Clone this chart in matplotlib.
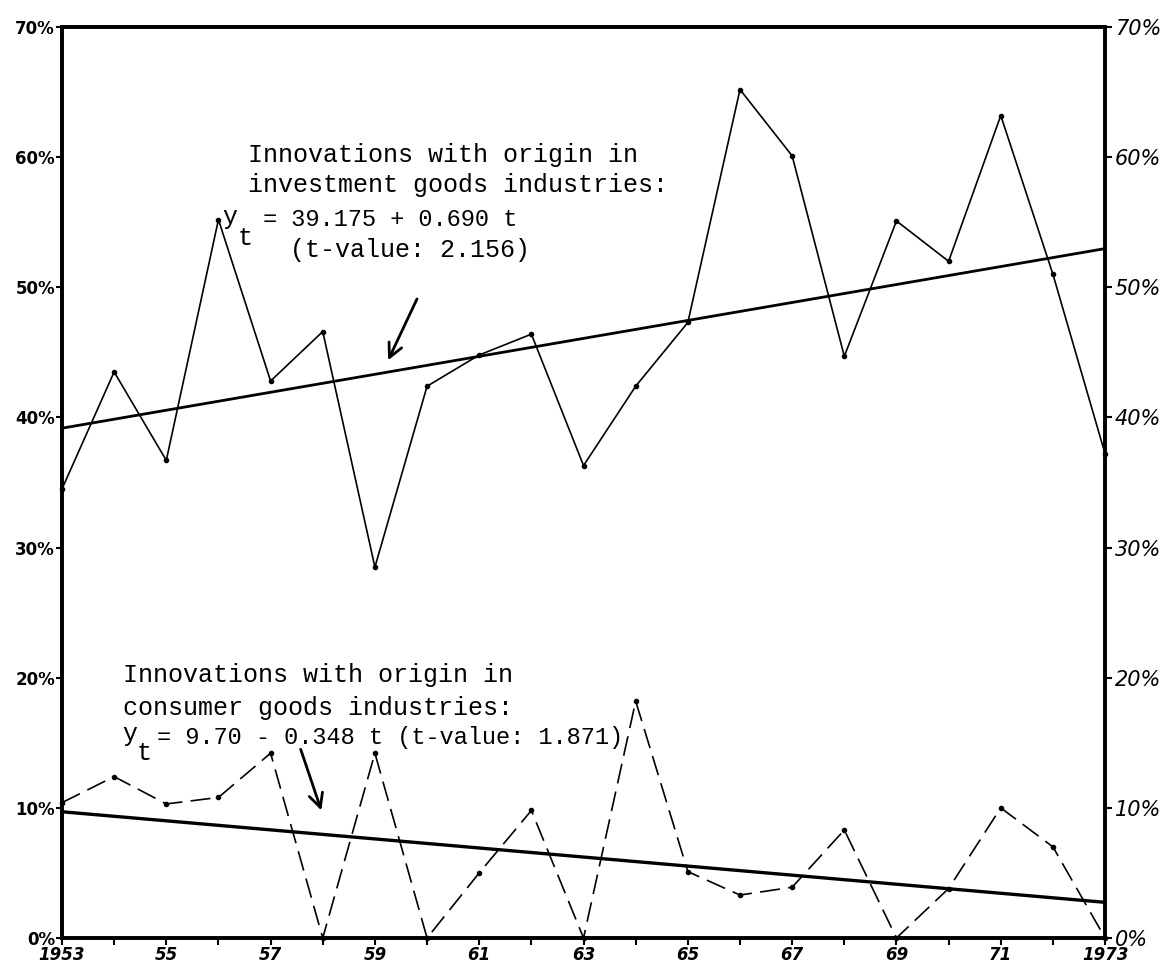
import numpy as np
import matplotlib
matplotlib.use("Agg")
import matplotlib.pyplot as plt

# yearly shares of innovations by origin (percent)
years = list(range(1953, 1974))
investment_share = [34.5, 43.5, 36.7, 55.2, 42.8, 46.6, 28.5, 42.4, 44.8, 46.4, 36.3,
                    42.4, 47.3, 65.2, 60.1, 44.7, 55.1, 52.0, 63.2, 51.0, 37.2]
consumer_share = [10.4, 12.4, 10.3, 10.8, 14.2, 0.0, 14.2, 0.0, 5.0, 9.8, 0.0,
                  18.2, 5.1, 3.3, 3.9, 8.3, 0.0, 3.8, 10.0, 7.0, 0.0]

# fitted trends, t = 0 in 1953
inv_const, inv_slope = 39.175, 0.690
con_const, con_slope = 9.70, -0.348

x_labels = ["1953", "55", "57", "59", "61", "63", "65", "67", "69", "71", "1973"]
y_ticks = [0, 10, 20, 30, 40, 50, 60, 70]

fig = plt.figure(figsize=(11.76, 9.66), dpi=100)
ax = fig.add_axes([0.0527, 0.029, 0.887, 0.943])

t = np.array(years) - years[0]
ax.plot(years, investment_share, color="black", lw=1.2, marker="o", ms=3,
        clip_on=False, zorder=3)
ax.plot(years, consumer_share, color="black", lw=1.2, marker="o", ms=3,
        dashes=(12, 5), clip_on=False, zorder=3)
ax.plot(years, inv_const + inv_slope * t, color="black", lw=2.0, clip_on=False)
ax.plot(years, con_const + con_slope * t, color="black", lw=2.4, clip_on=False)

ax.set_xlim(1953, 1973)
ax.set_ylim(0, 70)
for side in ["left", "right", "top", "bottom"]:
    ax.spines[side].set_linewidth(2.6)

ax.set_xticks(years, minor=True)
ax.set_xticks(years[::2])
ax.set_xticklabels(x_labels, fontsize=12, fontweight="bold", style="italic")
ax.tick_params(axis="x", which="both", direction="out", length=5, width=1.5, pad=1)
ax.set_yticks(y_ticks)
ax.set_yticklabels([str(v) + "%" for v in y_ticks], fontsize=12, fontweight="bold")
ax.tick_params(axis="y", direction="out", length=4, width=1.5, pad=1)

ax_r = ax.twinx()
ax_r.set_ylim(0, 70)
ax_r.set_yticks(y_ticks)
ax_r.set_yticklabels([str(v) + "%" for v in y_ticks], fontsize=15, style="italic")
ax_r.tick_params(axis="y", direction="out", length=5, width=1.5, pad=2)
for side in ["left", "right", "top", "bottom"]:
    ax_r.spines[side].set_linewidth(2.6)

mono = "Liberation Mono"
fs = 18

# investment goods annotation
ax.text(1956.57, 60.2, "Innovations with origin in", family=mono, fontsize=fs, va="center")
ax.text(1956.57, 57.9, "investment goods industries:", family=mono, fontsize=fs, va="center")
ax.text(1956.07, 55.4, "y", family=mono, fontsize=fs, va="center")
ax.text(1956.36, 53.8, "t", family=mono, fontsize=fs, va="center")
ax.text(1956.85, 55.2, "= 39.175 + 0.690 t", family=mono, fontsize=fs - 1, va="center")
ax.text(1957.37, 52.9, "(t-value: 2.156)", family=mono, fontsize=fs, va="center")
ax.annotate("", xy=(1959.23, 44.2), xytext=(1959.83, 49.3),
            arrowprops=dict(arrowstyle="->", lw=2, color="black", mutation_scale=25))

# consumer goods annotation
ax.text(1954.17, 20.2, "Innovations with origin in", family=mono, fontsize=fs, va="center")
ax.text(1954.17, 17.7, "consumer goods industries:", family=mono, fontsize=fs, va="center")
ax.text(1954.15, 15.7, "y", family=mono, fontsize=fs, va="center")
ax.text(1954.44, 14.2, "t", family=mono, fontsize=fs, va="center")
ax.text(1954.82, 15.4, "= 9.70 - 0.348 t (t-value: 1.871)", family=mono,
        fontsize=fs - 1, va="center")
ax.annotate("", xy=(1957.99, 9.6), xytext=(1957.56, 14.7),
            arrowprops=dict(arrowstyle="->", lw=2, color="black", mutation_scale=25))

fig.savefig("out.png", dpi=100)
